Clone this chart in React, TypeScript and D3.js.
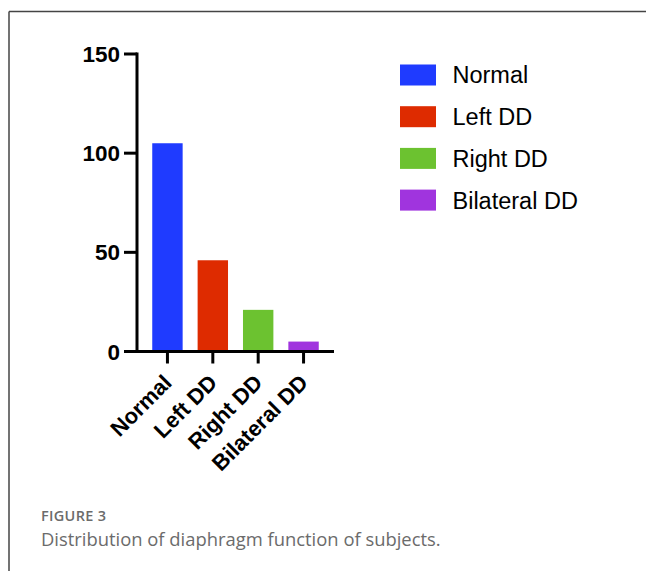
import React from "react";
import * as d3 from "d3";

const categories = ["Normal", "Left DD", "Right DD", "Bilateral DD"];
const counts = [105, 46, 21, 5];
const colors = ["#1f3bff", "#de2b00", "#6cc230", "#a034de"];
const yTicks = [0, 50, 100, 150];
const captionTitle = "FIGURE 3";
const captionText = "Distribution of diaphragm function of subjects.";

export default function App() {
  const W = 646;
  const H = 571;
  const axisX = 137;
  const x = d3
    .scaleBand<string>()
    .domain(categories)
    .range([axisX, 334])
    .paddingInner(0.33)
    .paddingOuter(0.336);
  const y = d3.scaleLinear().domain([0, 150]).range([351.5, 54]);
  const font = "Arial, 'Liberation Sans', Helvetica, sans-serif";
  const y0 = y(0);

  return (
    <svg
      width={W}
      height={H}
      style={{ position: "absolute", left: 0, top: 0, background: "#fff" }}
    >
      {/* frame */}
      <line x1={9} y1={11.5} x2={W} y2={11.5} stroke="#444" strokeWidth={1.5} />
      <line x1={9} y1={11.5} x2={9} y2={H} stroke="#444" strokeWidth={1.5} />

      {/* bars */}
      {categories.map((c, i) => (
        <rect
          key={c}
          x={x(c)}
          y={y(counts[i])}
          width={x.bandwidth()}
          height={y0 - y(counts[i])}
          fill={colors[i]}
        />
      ))}

      {/* y axis */}
      <line x1={axisX} y1={y(150) - 1.5} x2={axisX} y2={y0 + 1.5} stroke="#000" strokeWidth={3} />
      {yTicks.map((t) => (
        <g key={t}>
          <line x1={axisX - 13} y1={y(t)} x2={axisX} y2={y(t)} stroke="#000" strokeWidth={3} />
          <text
            x={axisX - 17}
            y={y(t)}
            dy="0.36em"
            textAnchor="end"
            fontFamily={font}
            fontWeight="bold"
            fontSize={22.5}
            fill="#000"
          >
            {t}
          </text>
        </g>
      ))}

      {/* x axis */}
      <line x1={axisX} y1={y0} x2={334} y2={y0} stroke="#000" strokeWidth={3} />
      {categories.map((c) => {
        const cx = (x(c) as number) + x.bandwidth() / 2;
        return (
          <g key={c}>
            <line x1={cx} y1={y0} x2={cx} y2={y0 + 12} stroke="#000" strokeWidth={3} />
            <text
              transform={`translate(${cx},${y0 + 27}) rotate(-45)`}
              textAnchor="end"
              dy="0.36em"
              fontFamily={font}
              fontWeight="bold"
              fontSize={22}
              fill="#000"
            >
              {c}
            </text>
          </g>
        );
      })}

      {/* legend */}
      {categories.map((c, i) => {
        const cy = 75 + i * 41.7;
        return (
          <g key={c}>
            <rect x={400} y={cy - 10.5} width={36} height={21} fill={colors[i]} />
            <text
              x={452.5}
              y={cy}
              dy="0.36em"
              fontFamily={font}
              fontSize={23.5}
              fill="#000"
            >
              {c}
            </text>
          </g>
        );
      })}

      {/* caption */}
      <text
        x={41}
        y={521}
        fontFamily="'Open Sans', 'Noto Sans', sans-serif"
        fontSize={14.5}
        fontWeight={600}
        letterSpacing={0.3}
        fill="#6b6b6b"
      >
        {captionTitle}
      </text>
      <text
        x={41}
        y={546}
        fontFamily="'Open Sans', 'Noto Sans', sans-serif"
        fontSize={18.4}
        fill="#6b6b6b"
      >
        {captionText}
      </text>
    </svg>
  );
}
